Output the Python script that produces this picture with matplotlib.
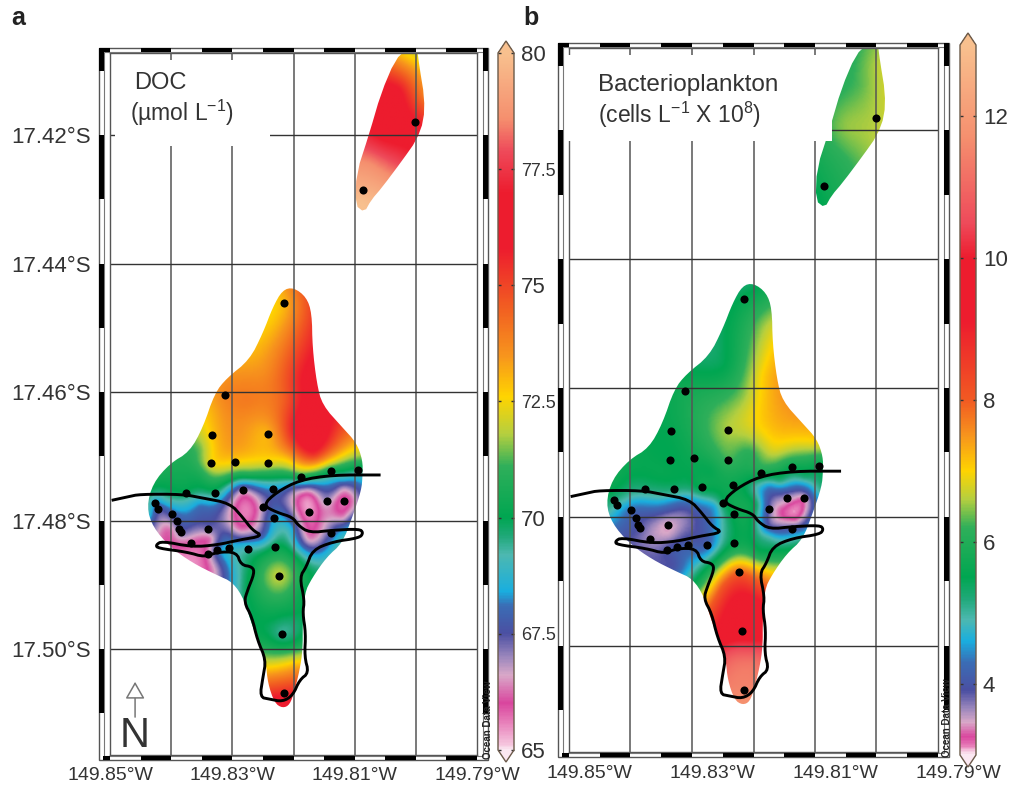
import numpy as np
import matplotlib
matplotlib.use("Agg")
import matplotlib.pyplot as plt
from matplotlib.colors import LinearSegmentedColormap, Normalize
from matplotlib.cm import ScalarMappable
from matplotlib.patches import PathPatch, Rectangle
from matplotlib.path import Path
from matplotlib.transforms import ScaledTranslation

plt.rcParams["font.family"] = ["Liberation Sans", "DejaVu Sans"]
plt.rcParams["mathtext.default"] = "regular"

# stations (degrees W / degrees S), same cruise in both panels
st_lon = [149.8215, 149.8312, 149.8334, 149.8241, 149.8335, 149.8296, 149.8241, 149.8188, 149.8138, 149.8094,
          149.8329, 149.8283, 149.8234, 149.8376, 149.8427, 149.8422, 149.8399, 149.8391, 149.8387, 149.8384,
          149.8339, 149.8368, 149.8340, 149.8325, 149.8306, 149.8275, 149.8231, 149.8250, 149.8232, 149.8175,
          149.8146, 149.8118, 149.8138, 149.8224, 149.8219, 149.8215, 149.8001, 149.8086]
st_lat = [17.4461, 17.4605, 17.4667, 17.4665, 17.4711, 17.4709, 17.4711, 17.4732, 17.4723, 17.4721,
          17.4757, 17.4753, 17.4751, 17.4757, 17.4773, 17.4782, 17.4790, 17.4801, 17.4813, 17.4818,
          17.4813, 17.4835, 17.4852, 17.4846, 17.4843, 17.4844, 17.4841, 17.4779, 17.4796, 17.4787,
          17.4770, 17.4770, 17.4819, 17.4886, 17.4977, 17.5069, 17.4180, 17.4286]
st_doc = [73.0, 73.8, 72.8, 73.0, 72.5, 72.6, 72.3, 70.8, 70.0, 69.6,
          69.8, 66.5, 68.3, 70.0, 68.0, 67.3, 67.8, 67.5, 67.5, 67.5,
          67.5, 66.0, 66.3, 68.3, 68.7, 69.3, 70.0, 67.0, 68.6, 65.3,
          67.3, 65.6, 67.5, 72.0, 69.3, 75.5, 76.0, 79.5]
st_bac = [5.6, 5.8, 5.6, 6.6, 5.5, 5.7, 6.3, 6.0, 5.5, 5.5,
          5.3, 5.8, 5.7, 5.2, 5.2, 4.9, 4.2, 4.0, 3.9, 3.9,
          3.4, 3.6, 4.0, 4.1, 4.1, 4.1, 5.6, 5.5, 5.6, 3.8,
          3.5, 3.25, 4.1, 8.0, 9.6, 11.5, 6.6, 5.7]

# further readings of the gridded fields between the stations
ex_lon = [149.8200, 149.8179, 149.8206, 149.8247, 149.8182, 149.8215, 149.8272, 149.8157, 149.8125, 149.8190,
          149.8166, 149.8100, 149.8092, 149.8133, 149.8206, 149.8272, 149.8304, 149.8353, 149.8329, 149.8402,
          149.8353, 149.8435, 149.8440, 149.8410, 149.8353, 149.8317, 149.8263, 149.8288, 149.8252, 149.8206,
          149.8197, 149.8175, 149.8175, 149.8154, 149.8198, 149.8133, 149.8095, 149.8105, 149.8117, 149.8157,
          149.8125, 149.8190, 149.8182, 149.8272, 149.8304, 149.8329, 149.8369, 149.8402, 149.8418, 149.8337,
          149.8312, 149.8272, 149.8252, 149.8182, 149.8231, 149.8198, 149.8247, 149.8195, 149.8231, 149.8198,
          149.8239, 149.8190, 149.8218,
          149.8019, 149.8001, 149.7988, 149.8027, 149.8051, 149.8051, 149.8076, 149.8092,
          149.8175, 149.8175, 149.8149, 149.8118, 149.8118, 149.8135, 149.8099, 149.8259, 149.8301, 149.8130]
ex_lat = [17.4449, 17.4503, 17.4519, 17.4566, 17.4581, 17.4612, 17.4612, 17.4628, 17.4659, 17.4659,
          17.4698, 17.4690, 17.4709, 17.4714, 17.4703, 17.4729, 17.4737, 17.4690, 17.4628, 17.4737,
          17.4729, 17.4753, 17.4784, 17.4768, 17.4776, 17.4784, 17.4784, 17.4815, 17.4823, 17.4815,
          17.4781, 17.4768, 17.4815, 17.4799, 17.4753, 17.4753, 17.4760, 17.4799, 17.4737, 17.4745,
          17.4830, 17.4854, 17.4893, 17.4869, 17.4869, 17.4877, 17.4854, 17.4815, 17.4830, 17.4830,
          17.4823, 17.4908, 17.4908, 17.4908, 17.4955, 17.4939, 17.4986, 17.4994, 17.5020, 17.5025,
          17.5048, 17.5048, 17.5092,
          17.4075, 17.4099, 17.4138, 17.4130, 17.4192, 17.4254, 17.4239, 17.4301,
          17.4753, 17.4830, 17.4776, 17.4749, 17.4796, 17.4773, 17.4768, 17.4784, 17.4776, 17.4807]
ex_doc = [73.8, 75.0, 74.2, 73.6, 76.0, 74.5, 74.0, 76.2, 75.0, 76.5,
          75.5, 72.5, 71.0, 71.5, 73.0, 70.8, 70.2, 71.3, 73.2, 70.3,
          70.5, 70.0, 69.8, 69.3, 68.0, 67.4, 66.0, 66.2, 67.5, 69.0,
          66.5, 65.4, 66.0, 66.4, 67.0, 67.5, 67.3, 68.0, 68.8, 68.2,
          69.0, 69.5, 70.5, 69.8, 68.5, 66.5, 65.6, 66.0, 66.3, 65.8,
          67.8, 70.2, 70.8, 70.0, 70.0, 70.2, 70.3, 70.4, 72.0, 73.0,
          74.0, 74.5, 77.0,
          72.8, 73.5, 74.0, 76.0, 76.5, 78.5, 78.5, 80.0,
          66.5, 66.3, 66.6, 66.6, 66.2, 66.3, 66.5, 66.2, 66.6, 67.5]
ex_bac = [5.5, 6.6, 6.2, 5.5, 7.1, 6.5, 6.0, 7.4, 7.3, 7.0,
          6.8, 6.8, 6.0, 6.0, 6.0, 5.5, 5.5, 5.5, 5.7, 5.5,
          5.6, 5.7, 5.2, 5.1, 4.7, 4.0, 4.5, 4.0, 4.9, 5.6,
          5.6, 4.0, 3.8, 3.3, 4.9, 4.3, 5.0, 4.2, 5.4, 5.3,
          4.8, 5.5, 7.5, 5.2, 4.5, 3.9, 3.8, 4.1, 4.0, 3.5,
          3.8, 6.8, 8.0, 8.0, 9.6, 9.5, 9.6, 10.0, 11.0, 11.2,
          11.3, 11.3, 11.8,
          6.3, 6.6, 6.7, 6.3, 6.5, 6.1, 6.0, 5.5,
          4.3, 5.0, 3.6, 4.6, 3.4, 3.5, 4.4, 4.8, 4.4, 3.3]

# outline of the gridded area
main_lon = [149.8200, 149.8179, 149.8170, 149.8169, 149.8162, 149.8153, 149.8120, 149.8097, 149.8087, 149.8087,
            149.8089, 149.8104, 149.8120, 149.8146, 149.8170, 149.8182, 149.8185, 149.8185, 149.8190, 149.8198,
            149.8206, 149.8218, 149.8231, 149.8242, 149.8245, 149.8252, 149.8267, 149.8280, 149.8299, 149.8325,
            149.8365, 149.8402, 149.8430, 149.8440, 149.8430, 149.8402, 149.8370, 149.8348, 149.8329, 149.8309,
            149.8272, 149.8250, 149.8234, 149.8218]
main_lat = [17.4437, 17.4452, 17.4477, 17.4530, 17.4586, 17.4620, 17.4655, 17.4679, 17.4706, 17.4729,
            17.4753, 17.4795, 17.4835, 17.4857, 17.4890, 17.4913, 17.4960, 17.5002, 17.5033, 17.5064,
            17.5087, 17.5092, 17.5084, 17.5053, 17.5022, 17.4997, 17.4966, 17.4924, 17.4896, 17.4885,
            17.4866, 17.4841, 17.4810, 17.4779, 17.4742, 17.4711, 17.4693, 17.4655, 17.4602, 17.4578,
            17.4550, 17.4508, 17.4468, 17.4441]
north_lon = [149.8014, 149.7998, 149.7994, 149.7986, 149.7987, 149.7999, 149.8022, 149.8055, 149.8073, 149.8084,
             149.8099, 149.8097, 149.8076, 149.8057, 149.8034]
north_lat = [17.4065, 17.4065, 17.4094, 17.4141, 17.4177, 17.4208, 17.4239, 17.4281, 17.4301, 17.4320,
             17.4309, 17.4259, 17.4197, 17.4135, 17.4083]

# reef and lagoon shoreline
coast_lon = [149.8495, 149.8471, 149.8451, 149.8381, 149.8348, 149.8304, 149.8283, 149.8267, 149.8250, 149.8288,
             149.8325, 149.8366, 149.8415, 149.8425, 149.8422, 149.8374, 149.8345, 149.8325, 149.8293, 149.8286,
             149.8267, 149.8264, 149.8275, 149.8281, 149.8268, 149.8259, 149.8245, 149.8250, 149.8255, 149.8239,
             149.8218, 149.8201, 149.8190, 149.8175, 149.8182, 149.8180, 149.8185, 149.8182, 149.8190, 149.8179,
             149.8169, 149.8136, 149.8092, 149.8086, 149.8092, 149.8136, 149.8174, 149.8193, 149.8201, 149.8228,
             149.8250, 149.8228, 149.8190, 149.8136, 149.8060]
coast_lat = [17.4768, 17.4763, 17.4759, 17.4759, 17.4765, 17.4773, 17.4795, 17.4815, 17.4824, 17.4830,
             17.4838, 17.4841, 17.4832, 17.4838, 17.4843, 17.4849, 17.4857, 17.4849, 17.4849, 17.4869,
             17.4872, 17.4882, 17.4908, 17.4927, 17.4950, 17.4986, 17.5017, 17.5044, 17.5075, 17.5078,
             17.5082, 17.5072, 17.5048, 17.5037, 17.5012, 17.4975, 17.4944, 17.4924, 17.4888, 17.4872,
             17.4846, 17.4833, 17.4827, 17.4819, 17.4813, 17.4815, 17.4819, 17.4807, 17.4795, 17.4787,
             17.4776, 17.4756, 17.4737, 17.4729, 17.4729]

grid_lons = [149.84, 149.83, 149.82, 149.81, 149.80]
grid_lats = [17.42, 17.44, 17.46, 17.48, 17.50]
lon_labels = ["149.85°W", "149.83°W", "149.81°W", "149.79°W"]
lat_labels = ["17.42°S", "17.44°S", "17.46°S", "17.48°S", "17.50°S"]

# colour ramp, with the value each colour sits at on the two colour bars
ramp = ["#FBE8F2", "#F5C6DE", "#E77CB8", "#D9469E", "#D9A8C8", "#9A86BC", "#4B4FA2", "#3A6DB5", "#19AEDF",
        "#4DB8B0", "#1FA878", "#00A651", "#2FAF5A", "#B5CF3F", "#FFD400", "#F7941D", "#F15A22", "#ED1C2E",
        "#ED1C2E", "#EE4A5A", "#F58F6E", "#F8C08E"]
doc_stops = [65.0, 65.1, 65.6, 66.0, 66.6, 67.0, 67.5, 68.1, 68.4,
             69.2, 69.6, 70.0, 71.1, 71.8, 72.6, 73.5, 74.6, 75.8,
             77.0, 77.9, 78.6, 80.0]
bac_stops = [3.0, 3.05, 3.12, 3.25, 3.45, 3.65, 3.9, 4.3, 4.6,
             4.9, 5.2, 5.5, 6.2, 6.6, 7.0, 7.5, 8.0, 9.1,
             10.0, 10.5, 11.7, 13.0]

W, H = 1011, 792


def px_axes(x0, y0, x1, y1):
    return fig.add_axes([x0 / W, 1 - y1 / H, (x1 - x0) / W, (y1 - y0) / H])


def chaikin(x, y, n=2, closed=True):
    pts = np.column_stack([x, y])
    for _ in range(n):
        if closed:
            nxt = np.roll(pts, -1, axis=0)
            pts = np.column_stack([0.75 * pts + 0.25 * nxt, 0.25 * pts + 0.75 * nxt]).reshape(-1, 2)
        else:
            a, b = pts[:-1], pts[1:]
            mid = np.column_stack([0.75 * a + 0.25 * b, 0.25 * a + 0.75 * b]).reshape(-1, 2)
            pts = np.vstack([pts[0], mid, pts[-1]])
    return pts


def tps(lon, lat, val, gx, gy, smooth=0.02):
    """Thin plate spline through the readings."""
    p = np.column_stack([lon, lat]) * 100
    q = np.column_stack([gx.ravel(), gy.ravel()]) * 100

    def kern(r):
        return r**2 * np.log(r + 1e-9)

    n = len(p)
    K = kern(np.hypot(*(p[:, None] - p[None]).T)) + smooth * np.eye(n)
    P = np.column_stack([np.ones(n), p])
    A = np.block([[K, P], [P.T, np.zeros((3, 3))]])
    w = np.linalg.solve(A, np.r_[val, np.zeros(3)])
    out = np.empty(len(q))
    for i in range(0, len(q), 5000):
        part = q[i:i + 5000]
        d = np.hypot(part[:, 0, None] - p[:, 0], part[:, 1, None] - p[:, 1])
        out[i:i + 5000] = kern(d) @ w[:n] + w[n] + part @ w[n + 1:]
    return out.reshape(gx.shape)


def draw_panel(ax, values, cmap, norm, box, hline_from):
    ax.set_xlim(149.85, 149.79)
    ax.set_ylim(17.5165, 17.4072)

    gx, gy = np.meshgrid(np.linspace(149.85, 149.79, 300), np.linspace(17.4072, 17.5165, 550))
    field = tps(np.r_[st_lon, ex_lon], np.r_[st_lat, ex_lat], values, gx, gy)
    im = ax.imshow(field, extent=(149.85, 149.79, 17.5165, 17.4072), origin="upper", aspect="auto",
                   cmap=cmap, norm=norm, interpolation="bilinear", zorder=1)
    ring1 = chaikin(main_lon, main_lat)
    ring2 = chaikin(north_lon, north_lat, n=1)
    verts = np.vstack([ring1, ring1[0], ring2, ring2[0]])
    codes = ([Path.MOVETO] + [Path.LINETO] * (len(ring1) - 1) + [Path.CLOSEPOLY]
             + [Path.MOVETO] + [Path.LINETO] * (len(ring2) - 1) + [Path.CLOSEPOLY])
    patch = PathPatch(Path(verts, codes), transform=ax.transData, fc="none", ec="none")
    ax.add_patch(patch)
    im.set_clip_path(patch)

    for lon in grid_lons:
        ax.plot([lon, lon], [17.4072, 17.5165], color="#555555", lw=1.1, zorder=2)
    for lat in grid_lats:
        start = hline_from if lat == 17.42 else 149.85
        ax.plot([start, 149.79], [lat, lat], color="#333333", lw=1.0, zorder=2)
    # tick stub of the masked grid line
    ax.plot([149.85, 149.8492], [17.42, 17.42], color="#333333", lw=1.0, zorder=2)
    ax.add_patch(Rectangle((box[0], box[2]), box[1] - box[0], box[3] - box[2], fc="white", ec="none",
                           zorder=2.6, clip_on=False))

    cl = chaikin(coast_lon, coast_lat, n=2, closed=False)
    ax.plot(cl[:, 0], cl[:, 1], color="black", lw=2.1, zorder=3, solid_joinstyle="round", clip_on=False)
    ax.scatter(st_lon, st_lat, s=34, color="black", zorder=4, linewidths=0)

    # inner frame and outer scale band
    for sp in ax.spines.values():
        sp.set_color("#555555")
        sp.set_linewidth(1.0)
    pad_x, pad_y = 0.0018, 0.0008
    x0, x1, y0, y1 = 149.85 + pad_x, 149.79 - pad_x, 17.5165 + pad_y, 17.4072 - pad_y
    ax.add_patch(Rectangle((x1, y1), x0 - x1, y0 - y1, fc="none", ec="#555555", lw=1.0, clip_on=False, zorder=5))
    ax.add_patch(Rectangle((x1 + 0.0009, y1 + 0.0006), x0 - x1 - 0.0018, y0 - y1 - 0.0012, fc="none", ec="#777777",
                           lw=0.8, clip_on=False, zorder=5))
    seg_lat = [(y1, 17.41), (17.42, 17.43), (17.44, 17.45), (17.46, 17.47), (17.48, 17.49), (17.50, 17.51)]
    seg_lon = [(149.8512, 149.85), (149.845, 149.84), (149.835, 149.83), (149.825, 149.82),
               (149.815, 149.81), (149.805, 149.80), (149.795, 149.79)]
    for a, b in seg_lat:
        for xa in (x0, x1 + 0.0009):
            ax.add_patch(Rectangle((xa - 0.0009, a), 0.0009, b - a, fc="black", ec="none", clip_on=False, zorder=5))
    for a, b in seg_lon:
        for ya in (y0 - 0.0007, y1):
            ax.add_patch(Rectangle((b, ya), a - b, 0.0007, fc="black", ec="none", clip_on=False, zorder=5))


def draw_bar(rect, cmap, norm, frac, ticks, labels, big):
    cax = px_axes(*rect)
    cb = fig.colorbar(ScalarMappable(norm=norm, cmap=cmap), cax=cax, extend="both", extendfrac=frac,
                      drawedges=False)
    cb.set_ticks(ticks, labels=labels)
    cb.outline.set_edgecolor("#6b5a4a")
    cb.outline.set_linewidth(1.0)
    cax.tick_params(axis="y", direction="in", length=2, width=1, colors="#333333", pad=5, left=True)
    cax.minorticks_off()
    for lab, b in zip(cax.get_yticklabels(), big):
        lab.set_fontsize(16 if b else 13)
        lab.set_color("#333333")


fig = plt.figure(figsize=(W / 100, H / 100), dpi=100)

doc_cmap = LinearSegmentedColormap.from_list("doc", [((v - 65) / 15, c) for v, c in zip(doc_stops, ramp)], N=512)
bac_cmap = LinearSegmentedColormap.from_list("bac", [((v - 3) / 10, c) for v, c in zip(bac_stops, ramp)], N=512)
doc_cmap.set_over(ramp[-1])
doc_cmap.set_under(ramp[0])
bac_cmap.set_over(ramp[-1])
bac_cmap.set_under(ramp[0])
doc_norm = Normalize(65, 80)
bac_norm = Normalize(3, 13)

ax_a = px_axes(110, 53, 477, 755)
ax_b = px_axes(569, 48, 938, 752)

draw_panel(ax_a, np.r_[st_doc, ex_doc], doc_cmap, doc_norm, (149.8492, 149.8239, 17.4083, 17.4217), 149.8239)
draw_panel(ax_b, np.r_[st_bac, ex_bac], bac_cmap, bac_norm, (149.8505, 149.8072, 17.4083, 17.4217), 149.8072)

for ax, labels in ((ax_a, True), (ax_b, False)):
    ax.set_xticks([149.85, 149.83, 149.81, 149.79], labels=lon_labels)
    ax.set_yticks(grid_lats, labels=lat_labels if labels else [])
    ax.tick_params(axis="x", length=0, pad=9, labelsize=14, labelcolor="#333333")
    ax.tick_params(axis="y", length=0, pad=14, labelsize=16, labelcolor="#333333")

# the lon labels of panel b sit to the right of their grid lines
shift = ScaledTranslation(20 / 100, 0, fig.dpi_scale_trans)
for lab in ax_b.get_xticklabels():
    lab.set_transform(lab.get_transform() + shift)

draw_bar((498, 41, 514, 762), doc_cmap, doc_norm, 12 / 697, [65, 67.5, 70, 72.5, 75, 77.5, 80],
         ["65", "67.5", "70", "72.5", "75", "77.5", "80"], [1, 0, 1, 0, 1, 0, 1])
draw_bar((960, 33, 976, 767), bac_cmap, bac_norm, 12 / 710, [4, 6, 8, 10, 12],
         ["4", "6", "8", "10", "12"], [1, 1, 1, 1, 1])

fig.text(11 / W, 1 - 18 / H, "a", fontsize=18, fontweight="bold", va="center", color="#222222")
fig.text(523 / W, 1 - 18 / H, "b", fontsize=18, fontweight="bold", va="center", color="#222222")
fig.text(134 / W, 1 - 83 / H, "DOC", fontsize=17, va="center", color="#333333")
fig.text(130 / W, 1 - 113 / H, "(µmol L$^{-1}$)", fontsize=16.5, va="center", color="#333333")
fig.text(598 / W, 1 - 85 / H, "Bacterioplankton", fontsize=17.5, va="center", color="#333333")
fig.text(598 / W, 1 - 115 / H, "(cells L$^{-1}$ X 10$^{8}$)", fontsize=16.5, va="center", color="#333333")

# north arrow
ax_a.annotate("", xy=(149.8459, 17.5051), xytext=(149.8459, 17.5106),
              arrowprops=dict(arrowstyle="-|>,head_width=0.4,head_length=0.7", fc="white", ec="#777777", lw=1.1,
                              shrinkA=0, shrinkB=0, mutation_scale=15), zorder=6)
ax_a.text(149.8459, 17.5135, "N", fontsize=30, ha="center", va="center", color="#333333", zorder=6)

for x, y0 in ((488, 720), (947, 718)):
    fig.text(x / W, 1 - y0 / H, "Ocean Data View", fontsize=7, rotation=90, ha="center", va="center",
             color="#222222", fontweight="bold")

fig.savefig("out.png", dpi=100)
